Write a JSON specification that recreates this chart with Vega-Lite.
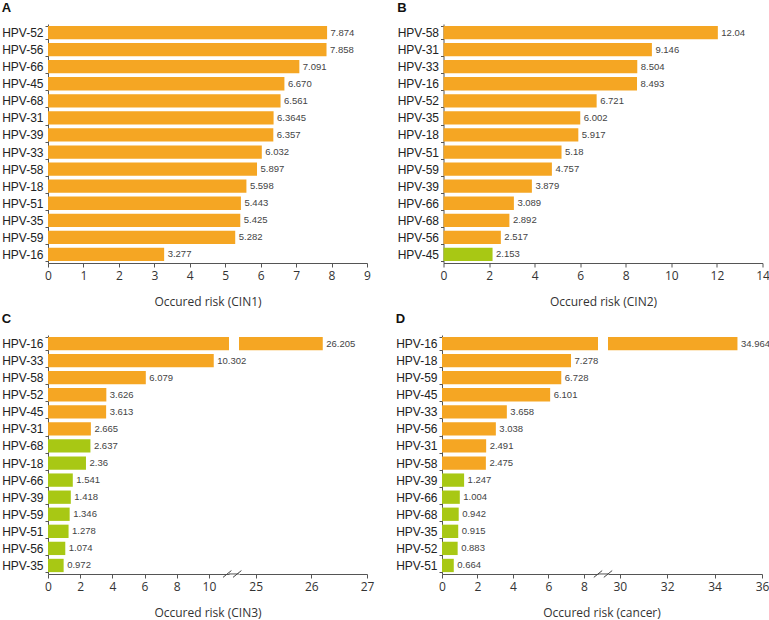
{
  "$schema": "https://vega.github.io/schema/vega-lite/v6.json",
  "padding": {"left": 1, "top": 2, "right": 0, "bottom": 12},
  "datasets": {
    "cin1": [
      {"hpv": "HPV-52", "risk": 7.874, "label": "7.874", "sig": "yes"},
      {"hpv": "HPV-56", "risk": 7.858, "label": "7.858", "sig": "yes"},
      {"hpv": "HPV-66", "risk": 7.091, "label": "7.091", "sig": "yes"},
      {"hpv": "HPV-45", "risk": 6.67, "label": "6.670", "sig": "yes"},
      {"hpv": "HPV-68", "risk": 6.561, "label": "6.561", "sig": "yes"},
      {"hpv": "HPV-31", "risk": 6.3645, "label": "6.3645", "sig": "yes"},
      {"hpv": "HPV-39", "risk": 6.357, "label": "6.357", "sig": "yes"},
      {"hpv": "HPV-33", "risk": 6.032, "label": "6.032", "sig": "yes"},
      {"hpv": "HPV-58", "risk": 5.897, "label": "5.897", "sig": "yes"},
      {"hpv": "HPV-18", "risk": 5.598, "label": "5.598", "sig": "yes"},
      {"hpv": "HPV-51", "risk": 5.443, "label": "5.443", "sig": "yes"},
      {"hpv": "HPV-35", "risk": 5.425, "label": "5.425", "sig": "yes"},
      {"hpv": "HPV-59", "risk": 5.282, "label": "5.282", "sig": "yes"},
      {"hpv": "HPV-16", "risk": 3.277, "label": "3.277", "sig": "yes"}
    ],
    "cin2": [
      {"hpv": "HPV-58", "risk": 12.04, "label": "12.04", "sig": "yes"},
      {"hpv": "HPV-31", "risk": 9.146, "label": "9.146", "sig": "yes"},
      {"hpv": "HPV-33", "risk": 8.504, "label": "8.504", "sig": "yes"},
      {"hpv": "HPV-16", "risk": 8.493, "label": "8.493", "sig": "yes"},
      {"hpv": "HPV-52", "risk": 6.721, "label": "6.721", "sig": "yes"},
      {"hpv": "HPV-35", "risk": 6.002, "label": "6.002", "sig": "yes"},
      {"hpv": "HPV-18", "risk": 5.917, "label": "5.917", "sig": "yes"},
      {"hpv": "HPV-51", "risk": 5.18, "label": "5.18", "sig": "yes"},
      {"hpv": "HPV-59", "risk": 4.757, "label": "4.757", "sig": "yes"},
      {"hpv": "HPV-39", "risk": 3.879, "label": "3.879", "sig": "yes"},
      {"hpv": "HPV-66", "risk": 3.089, "label": "3.089", "sig": "yes"},
      {"hpv": "HPV-68", "risk": 2.892, "label": "2.892", "sig": "yes"},
      {"hpv": "HPV-56", "risk": 2.517, "label": "2.517", "sig": "yes"},
      {"hpv": "HPV-45", "risk": 2.153, "label": "2.153", "sig": "no"}
    ],
    "cin3": [
      {"hpv": "HPV-16", "risk": 26.205, "label": "26.205", "sig": "yes"},
      {"hpv": "HPV-33", "risk": 10.302, "label": "10.302", "sig": "yes"},
      {"hpv": "HPV-58", "risk": 6.079, "label": "6.079", "sig": "yes"},
      {"hpv": "HPV-52", "risk": 3.626, "label": "3.626", "sig": "yes"},
      {"hpv": "HPV-45", "risk": 3.613, "label": "3.613", "sig": "yes"},
      {"hpv": "HPV-31", "risk": 2.665, "label": "2.665", "sig": "yes"},
      {"hpv": "HPV-68", "risk": 2.637, "label": "2.637", "sig": "no"},
      {"hpv": "HPV-18", "risk": 2.36, "label": "2.36", "sig": "no"},
      {"hpv": "HPV-66", "risk": 1.541, "label": "1.541", "sig": "no"},
      {"hpv": "HPV-39", "risk": 1.418, "label": "1.418", "sig": "no"},
      {"hpv": "HPV-59", "risk": 1.346, "label": "1.346", "sig": "no"},
      {"hpv": "HPV-51", "risk": 1.278, "label": "1.278", "sig": "no"},
      {"hpv": "HPV-56", "risk": 1.074, "label": "1.074", "sig": "no"},
      {"hpv": "HPV-35", "risk": 0.972, "label": "0.972", "sig": "no"}
    ],
    "cancer": [
      {"hpv": "HPV-16", "risk": 34.964, "label": "34.964", "sig": "yes"},
      {"hpv": "HPV-18", "risk": 7.278, "label": "7.278", "sig": "yes"},
      {"hpv": "HPV-59", "risk": 6.728, "label": "6.728", "sig": "yes"},
      {"hpv": "HPV-45", "risk": 6.101, "label": "6.101", "sig": "yes"},
      {"hpv": "HPV-33", "risk": 3.658, "label": "3.658", "sig": "yes"},
      {"hpv": "HPV-56", "risk": 3.038, "label": "3.038", "sig": "yes"},
      {"hpv": "HPV-31", "risk": 2.491, "label": "2.491", "sig": "yes"},
      {"hpv": "HPV-58", "risk": 2.475, "label": "2.475", "sig": "yes"},
      {"hpv": "HPV-39", "risk": 1.247, "label": "1.247", "sig": "no"},
      {"hpv": "HPV-66", "risk": 1.004, "label": "1.004", "sig": "no"},
      {"hpv": "HPV-68", "risk": 0.942, "label": "0.942", "sig": "no"},
      {"hpv": "HPV-35", "risk": 0.915, "label": "0.915", "sig": "no"},
      {"hpv": "HPV-52", "risk": 0.883, "label": "0.883", "sig": "no"},
      {"hpv": "HPV-51", "risk": 0.664, "label": "0.664", "sig": "no"}
    ]
  },
  "spacing": 6,
  "vconcat": [
    {
      "spacing": 25.5,
      "hconcat": [
        {
          "title": "A",
          "width": 319,
          "height": 239,
          "data": {"name": "cin1"},
          "encoding": {
            "y": {"field": "hpv", "type": "nominal", "scale": {"domain": ["HPV-52","HPV-56","HPV-66","HPV-45","HPV-68","HPV-31","HPV-39","HPV-33","HPV-58","HPV-18","HPV-51","HPV-35","HPV-59","HPV-16"], "paddingInner": 0.22, "paddingOuter": 0.11}}
          },
          "layer": [
            {
              "mark": {"type": "bar"},
              "encoding": {
                "x": {"field": "risk", "type": "quantitative", "scale": {"domain": [0, 9], "nice": false}, "axis": {"values": [0,1,2,3,4,5,6,7,8,9], "tickCount": 30, "format": "d", "labelOverlap": false, "title": "Occured risk (CIN1)"}},
                "color": {"field": "sig", "type": "nominal", "scale": {"domain": ["yes", "no"], "range": ["#F5A623", "#A8C814"]}, "legend": null}
              }
            },
            {
              "mark": {"type": "text", "align": "left", "baseline": "middle", "dx": 3.5, "fontSize": 9.5, "font": "Liberation Sans", "color": "#444"},
              "encoding": {"x": {"field": "risk", "type": "quantitative"}, "text": {"field": "label"}}
            }
          ]
        },
        {
          "title": "B",
          "width": 319,
          "height": 239,
          "data": {"name": "cin2"},
          "encoding": {
            "y": {"field": "hpv", "type": "nominal", "scale": {"domain": ["HPV-58","HPV-31","HPV-33","HPV-16","HPV-52","HPV-35","HPV-18","HPV-51","HPV-59","HPV-39","HPV-66","HPV-68","HPV-56","HPV-45"], "paddingInner": 0.22, "paddingOuter": 0.11}}
          },
          "layer": [
            {
              "mark": {"type": "bar"},
              "encoding": {
                "x": {"field": "risk", "type": "quantitative", "scale": {"domain": [0, 14], "nice": false}, "axis": {"values": [0,2,4,6,8,10,12,14], "tickCount": 30, "format": "d", "labelOverlap": false, "title": "Occured risk (CIN2)"}},
                "color": {"field": "sig", "type": "nominal", "scale": {"domain": ["yes", "no"], "range": ["#F5A623", "#A8C814"]}, "legend": null}
              }
            },
            {
              "mark": {"type": "text", "align": "left", "baseline": "middle", "dx": 3.5, "fontSize": 9.5, "font": "Liberation Sans", "color": "#444"},
              "encoding": {"x": {"field": "risk", "type": "quantitative"}, "text": {"field": "label"}}
            }
          ]
        }
      ]
    },
    {
      "spacing": 21,
      "hconcat": [
        {
          "title": "C",
          "bounds": "flush",
          "spacing": 10,
          "hconcat": [
            {
              "width": 181,
              "height": 239,
              "data": {"name": "cin3"},
              "encoding": {
                "y": {"field": "hpv", "type": "nominal", "scale": {"domain": ["HPV-16","HPV-33","HPV-58","HPV-52","HPV-45","HPV-31","HPV-68","HPV-18","HPV-66","HPV-39","HPV-59","HPV-51","HPV-56","HPV-35"], "paddingInner": 0.22, "paddingOuter": 0.11}}
              },
              "layer": [
                {
                  "mark": {"type": "bar", "clip": true},
                  "encoding": {
                    "x": {"field": "risk", "type": "quantitative", "scale": {"domain": [0, 11.25], "nice": false}, "axis": {"values": [0,2,4,6,8,10], "tickCount": 30, "format": "d", "labelOverlap": false, "title": "Occured risk (CIN3)", "titleX": 159.5}},
                    "color": {"field": "sig", "type": "nominal", "scale": {"domain": ["yes", "no"], "range": ["#F5A623", "#A8C814"]}, "legend": null}
                  }
                },
                {
                  "transform": [{"filter": "datum.risk < 20"}],
                  "mark": {"type": "text", "align": "left", "baseline": "middle", "dx": 3.5, "fontSize": 9.5, "font": "Liberation Sans", "color": "#444"},
                  "encoding": {"x": {"field": "risk", "type": "quantitative"}, "text": {"field": "label"}}
                },
                {
                  "data": {"values": [{}]},
                  "mark": {"type": "rule", "color": "#555", "yOffset": 8.5},
                  "encoding": {"x": {"datum": 11.25}, "x2": {"datum": 11.87}, "y": {"datum": "HPV-35"}}
                },
                {
                  "data": {"values": [{}]},
                  "mark": {"type": "point", "shape": "M-2.3,0.85L-0.2,-0.85M0.2,0.85L2.3,-0.85", "size": 64, "filled": false, "stroke": "#444", "strokeWidth": 1, "opacity": 1, "xOffset": 3.2, "yOffset": 8.5},
                  "encoding": {"x": {"datum": 11.25}, "y": {"datum": "HPV-35"}}
                }
              ]
            },
            {
              "width": 128,
              "height": 239,
              "data": {"name": "cin3"},
              "encoding": {
                "y": {"field": "hpv", "type": "nominal", "scale": {"domain": ["HPV-16","HPV-33","HPV-58","HPV-52","HPV-45","HPV-31","HPV-68","HPV-18","HPV-66","HPV-39","HPV-59","HPV-51","HPV-56","HPV-35"], "paddingInner": 0.22, "paddingOuter": 0.11}, "axis": null}
              },
              "layer": [
                {
                  "mark": {"type": "bar", "clip": true},
                  "encoding": {
                    "x": {"field": "risk", "type": "quantitative", "scale": {"domain": [24.7, 27], "nice": false, "zero": false}, "axis": {"values": [25,26,27], "tickCount": 30, "format": "d", "labelOverlap": false, "title": null}},
                    "color": {"field": "sig", "type": "nominal", "scale": {"domain": ["yes", "no"], "range": ["#F5A623", "#A8C814"]}, "legend": null}
                  }
                },
                {
                  "transform": [{"filter": "datum.risk > 20"}],
                  "mark": {"type": "text", "align": "left", "baseline": "middle", "dx": 3.5, "fontSize": 9.5, "font": "Liberation Sans", "color": "#444"},
                  "encoding": {"x": {"field": "risk", "type": "quantitative"}, "text": {"field": "label"}}
                }
              ]
            }
          ]
        },
        {
          "title": "D",
          "bounds": "flush",
          "spacing": 10,
          "hconcat": [
            {
              "width": 156,
              "height": 239,
              "data": {"name": "cancer"},
              "encoding": {
                "y": {"field": "hpv", "type": "nominal", "scale": {"domain": ["HPV-16","HPV-18","HPV-59","HPV-45","HPV-33","HPV-56","HPV-31","HPV-58","HPV-39","HPV-66","HPV-68","HPV-35","HPV-52","HPV-51"], "paddingInner": 0.22, "paddingOuter": 0.11}}
              },
              "layer": [
                {
                  "mark": {"type": "bar", "clip": true},
                  "encoding": {
                    "x": {"field": "risk", "type": "quantitative", "scale": {"domain": [0, 8.8], "nice": false}, "axis": {"values": [0,2,4,6,8], "tickCount": 30, "format": "d", "labelOverlap": false, "title": "Occured risk (cancer)", "titleX": 159.5}},
                    "color": {"field": "sig", "type": "nominal", "scale": {"domain": ["yes", "no"], "range": ["#F5A623", "#A8C814"]}, "legend": null}
                  }
                },
                {
                  "transform": [{"filter": "datum.risk < 20"}],
                  "mark": {"type": "text", "align": "left", "baseline": "middle", "dx": 3.5, "fontSize": 9.5, "font": "Liberation Sans", "color": "#444"},
                  "encoding": {"x": {"field": "risk", "type": "quantitative"}, "text": {"field": "label"}}
                },
                {
                  "data": {"values": [{}]},
                  "mark": {"type": "rule", "color": "#555", "yOffset": 8.5},
                  "encoding": {"x": {"datum": 8.8}, "x2": {"datum": 9.37}, "y": {"datum": "HPV-51"}}
                },
                {
                  "data": {"values": [{}]},
                  "mark": {"type": "point", "shape": "M-2.3,0.85L-0.2,-0.85M0.2,0.85L2.3,-0.85", "size": 64, "filled": false, "stroke": "#444", "strokeWidth": 1, "opacity": 1, "xOffset": 5, "yOffset": 8.5},
                  "encoding": {"x": {"datum": 8.8}, "y": {"datum": "HPV-51"}}
                }
              ]
            },
            {
              "width": 154,
              "height": 239,
              "data": {"name": "cancer"},
              "encoding": {
                "y": {"field": "hpv", "type": "nominal", "scale": {"domain": ["HPV-16","HPV-18","HPV-59","HPV-45","HPV-33","HPV-56","HPV-31","HPV-58","HPV-39","HPV-66","HPV-68","HPV-35","HPV-52","HPV-51"], "paddingInner": 0.22, "paddingOuter": 0.11}, "axis": null}
              },
              "layer": [
                {
                  "mark": {"type": "bar", "clip": true},
                  "encoding": {
                    "x": {"field": "risk", "type": "quantitative", "scale": {"domain": [29.5, 36], "nice": false, "zero": false}, "axis": {"values": [30,32,34,36], "tickCount": 30, "format": "d", "labelOverlap": false, "title": null}},
                    "color": {"field": "sig", "type": "nominal", "scale": {"domain": ["yes", "no"], "range": ["#F5A623", "#A8C814"]}, "legend": null}
                  }
                },
                {
                  "transform": [{"filter": "datum.risk > 20"}],
                  "mark": {"type": "text", "align": "left", "baseline": "middle", "dx": 3.5, "fontSize": 9.5, "font": "Liberation Sans", "color": "#444"},
                  "encoding": {"x": {"field": "risk", "type": "quantitative"}, "text": {"field": "label"}}
                }
              ]
            }
          ]
        }
      ]
    }
  ],
  "config": {
    "view": {"stroke": null},
    "font": "Liberation Sans",
    "axis": {"grid": false, "domainColor": "#555", "tickColor": "#555", "labelColor": "#333", "titleColor": "#333", "titleFontWeight": "normal"},
    "axisX": {"labelFont": "Open Sans", "labelFontSize": 12, "titleFont": "Open Sans", "titleFontSize": 12, "tickSize": 4, "labelPadding": 3, "titlePadding": 15, "labelFlush": false, "labelOverlap": false},
    "axisY": {"labelFont": "Liberation Sans", "labelFontSize": 12, "labelColor": "#222", "tickSize": 3, "labelPadding": 2, "tickBand": "extent", "title": null, "labelOverlap": false},
    "title": {"anchor": "start", "frame": "bounds", "font": "Liberation Sans", "fontSize": 13, "fontWeight": "bold", "color": "#111", "offset": 3}
  }
}
